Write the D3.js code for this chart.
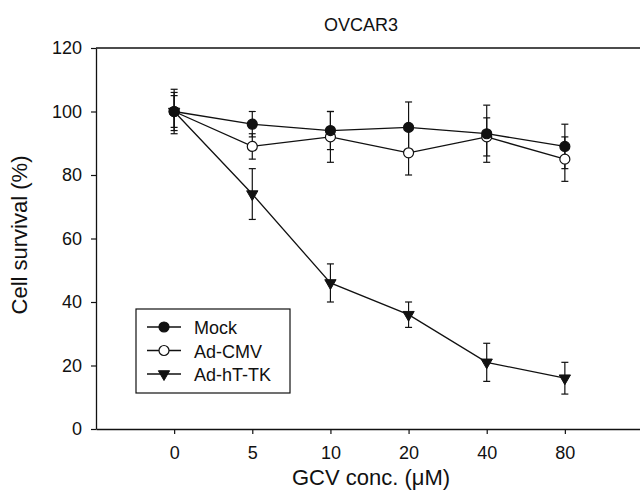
<!DOCTYPE html>
<html>
<head>
<meta charset="utf-8">
<script src="https://cdn.jsdelivr.net/npm/d3@7"></script>
<style>
  body { margin: 0; background: #fff; }
  svg { display: block; font-family: "Liberation Sans", Arial, sans-serif; }
</style>
</head>
<body>
<div id="chart"></div>
<script>
// doses on the x axis (GCV conc., uM)
var doses = ["0", "5", "10", "20", "40", "80"];
var yTicks = [0, 20, 40, 60, 80, 100, 120];

var mockVals = [100, 96, 94, 95, 93, 89];
var mockErr = [6, 4, 6, 8, 9, 7];
var cmvVals = [100, 89, 92, 87, 92, 85];
var cmvErr = [7, 4, 8, 7, 6, 7];
var tkVals = [100, 74, 46, 36, 21, 16];
var tkErr = [5, 8, 6, 4, 6, 5];

var seriesNames = ["Mock", "Ad-CMV", "Ad-hT-TK"];

var dim = {
  width: 640,
  height: 490,
  left: 96,
  right: 643,
  top: 48,
  bottom: 429,
}

var svg = d3.select("#chart").append("svg")
  .attr("width", dim.width)
  .attr("height", dim.height);

var x = d3.scalePoint()
  .domain(doses)
  .range([dim.left, dim.right])
  .padding(1);

var y = d3.scaleLinear()
  .domain([0, 120])
  .range([dim.bottom, dim.top]);

// frame (right side falls off the picture)
svg.append("line")
  .attr("x1", dim.left).attr("x2", dim.right)
  .attr("y1", dim.top).attr("y2", dim.top)
  .attr("stroke", "#111").attr("stroke-width", 1.3);

var xAxis = svg.append("g")
  .attr("transform", "translate(0," + dim.bottom + ")")
  .call(d3.axisBottom(x).tickSize(5).tickPadding(12).tickSizeOuter(0));
var yAxis = svg.append("g")
  .attr("transform", "translate(" + dim.left + ",0)")
  .call(d3.axisLeft(y).tickValues(yTicks).tickSize(5).tickPadding(9).tickSizeOuter(0));

[xAxis, yAxis].forEach(function(ax) {
  ax.select(".domain").attr("stroke", "#111").attr("stroke-width", 1.3);
  ax.selectAll(".tick line").attr("stroke", "#111").attr("stroke-width", 1.2);
  ax.selectAll(".tick text")
    .attr("fill", "#111")
    .style("font-size", "18px")
    .style("font-family", '"Liberation Sans", Arial, sans-serif');
});

// titles
svg.append("text")
  .attr("x", 361).attr("y", 31)
  .attr("text-anchor", "middle")
  .style("font-size", "18px")
  .attr("fill", "#111")
  .text("OVCAR3");

svg.append("text")
  .attr("x", 371).attr("y", 485)
  .attr("text-anchor", "middle")
  .style("font-size", "22px")
  .attr("fill", "#111")
  .text("GCV conc. (\u03bcM)");

svg.append("text")
  .attr("transform", "translate(27,235) rotate(-90)")
  .attr("text-anchor", "middle")
  .style("font-size", "22px")
  .attr("fill", "#111")
  .text("Cell survival (%)");

// build series
var series = [
  { name: seriesNames[2], vals: tkVals, err: tkErr, shape: "tri", fill: "#111" },
  { name: seriesNames[1], vals: cmvVals, err: cmvErr, shape: "circle", fill: "#fff" },
  { name: seriesNames[0], vals: mockVals, err: mockErr, shape: "circle", fill: "#111" },
];
series.forEach(function(s) {
  s.points = doses.map(function(d, i) {
    return { dose: d, v: s.vals[i], e: s.err[i] };
  });
});

var line = d3.line()
  .x(function(d) { return x(d.dose); })
  .y(function(d) { return y(d.v); });

var capW = 3.5;

// error bars
series.forEach(function(s) {
  var g = svg.append("g").attr("stroke", "#111").attr("stroke-width", 1.2);
  s.points.forEach(function(p) {
    var cx = x(p.dose);
    g.append("line").attr("x1", cx).attr("x2", cx)
      .attr("y1", y(p.v + p.e)).attr("y2", y(p.v - p.e));
    [p.v + p.e, p.v - p.e].forEach(function(v) {
      g.append("line").attr("x1", cx - capW).attr("x2", cx + capW)
        .attr("y1", y(v)).attr("y2", y(v));
    });
  });
});

// lines
series.forEach(function(s) {
  svg.append("path")
    .datum(s.points)
    .attr("d", line)
    .attr("fill", "none")
    .attr("stroke", "#111")
    .attr("stroke-width", 1.3);
});

function drawMarker(g, shape, fill, cx, cy) {
  if (shape === "circle") {
    g.append("circle")
      .attr("cx", cx).attr("cy", cy).attr("r", 5)
      .attr("fill", fill).attr("stroke", "#111").attr("stroke-width", 1.2);
  } else {
    g.append("path")
      .attr("d", d3.symbol().type(d3.symbolTriangle).size(55)())
      .attr("transform", "translate(" + cx + "," + cy + ") rotate(180)")
      .attr("fill", fill).attr("stroke", "#111").attr("stroke-width", 1);
  }
}

// markers
series.forEach(function(s) {
  var g = svg.append("g");
  s.points.forEach(function(p) {
    drawMarker(g, s.shape, s.fill, x(p.dose), y(p.v));
  });
});

// legend
var legend = svg.append("g");
legend.append("rect")
  .attr("x", 136).attr("y", 309)
  .attr("width", 154).attr("height", 84)
  .attr("fill", "#fff").attr("stroke", "#111").attr("stroke-width", 1.2);

var legendRows = [series[2], series[1], series[0]];
legendRows.forEach(function(s, i) {
  var ly = 327 + i * 23.5;
  legend.append("line")
    .attr("x1", 147).attr("x2", 181)
    .attr("y1", ly).attr("y2", ly)
    .attr("stroke", "#111").attr("stroke-width", 1.3);
  drawMarker(legend, s.shape, s.fill, 164, ly);
  legend.append("text")
    .attr("x", 194).attr("y", ly + 7)
    .style("font-size", "18px")
    .attr("fill", "#111")
    .text(s.name);
});
</script>
</body>
</html>
